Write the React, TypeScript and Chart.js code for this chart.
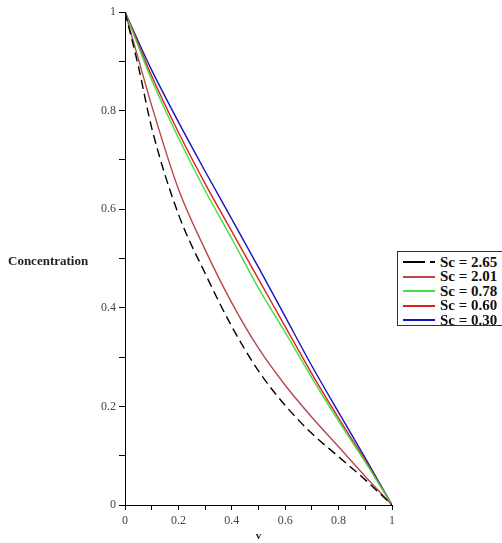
import React, { useEffect, useRef } from "react";
import { Chart, registerables } from "chart.js";

Chart.register(...registerables);

const vValues = [0, 0.05, 0.1, 0.2, 0.3, 0.4, 0.5, 0.6, 0.7, 0.8, 0.9, 1];
const sc265 = [1, 0.89, 0.765, 0.59, 0.47, 0.362, 0.272, 0.202, 0.145, 0.098, 0.051, 0];
const sc201 = [1, 0.905, 0.81, 0.641, 0.518, 0.41, 0.318, 0.243, 0.178, 0.118, 0.058, 0];
const sc078 = [1, 0.93, 0.862, 0.745, 0.638, 0.54, 0.44, 0.35, 0.258, 0.17, 0.087, 0];
const sc060 = [1, 0.935, 0.87, 0.756, 0.652, 0.555, 0.458, 0.362, 0.266, 0.176, 0.09, 0];
const sc030 = [1, 0.94, 0.882, 0.777, 0.677, 0.58, 0.482, 0.382, 0.282, 0.188, 0.095, 0];
const seriesLabels = ["Sc = 2.65", "Sc = 2.01", "Sc = 0.78", "Sc = 0.60", "Sc = 0.30"];
const seriesColors = ["#000000", "#b8474a", "#3fe03f", "#e01f1f", "#1414c0"];
const xTickLabels = ["0", "0.2", "0.4", "0.6", "0.8", "1"];
const yTickLabels = ["0", "0.2", "0.4", "0.6", "0.8", "1"];

const SERIF = "'Liberation Serif', 'DejaVu Serif', serif";

export default function App() {
  const ref = useRef<HTMLCanvasElement | null>(null);
  useEffect(() => {
    if (!ref.current) return;
    const all = [sc265, sc201, sc078, sc060, sc030];
    const fmt = (val: number, labels: string[]) => {
      const idx = Math.round(val * 10);
      if (idx % 2 !== 0) return "";
      return labels[idx / 2] ?? "";
    };
    const chart = new Chart(ref.current, {
      type: "line",
      data: {
        datasets: all.map((arr, i) => ({
          label: seriesLabels[i],
          data: vValues.map((v, j) => ({ x: v, y: arr[j] })),
          borderColor: seriesColors[i],
          borderWidth: 1.4,
          borderDash: i === 0 ? [9, 5] : [],
          pointRadius: 0,
          fill: false,
          cubicInterpolationMode: "monotone" as const,
        })),
      },
      options: {
        animation: false,
        responsive: false,
        layout: { padding: { left: 0, right: 110, top: 12, bottom: 0 } },
        plugins: { legend: { display: false }, tooltip: { enabled: false } },
        scales: {
          x: {
            type: "linear",
            min: 0,
            max: 1,
            afterFit: (s: any) => { s.height = 38; },
            afterBuildTicks: (s: any) => {
              s.ticks = Array.from({ length: 11 }, (_, k) => ({ value: k / 10 }));
            },
            ticks: {
              autoSkip: false,
              maxRotation: 0,
              padding: 4,
              color: "#444",
              font: { family: SERIF, size: 12 },
              callback: (val: any) => fmt(Number(val), xTickLabels),
            },
            grid: { drawOnChartArea: false, drawTicks: true, tickLength: 5, color: "#000" },
            border: { display: true, color: "#000", width: 1 },
            title: {
              display: true,
              text: "v",
              color: "#222",
              font: { family: SERIF, size: 11, weight: "bold" },
              padding: { top: 0, bottom: 0 },
            },
          },
          y: {
            type: "linear",
            min: 0,
            max: 1,
            afterFit: (s: any) => { s.width = 125; },
            afterBuildTicks: (s: any) => {
              s.ticks = Array.from({ length: 11 }, (_, k) => ({ value: k / 10 }));
            },
            ticks: {
              autoSkip: false,
              padding: 3,
              color: "#444",
              font: { family: SERIF, size: 12 },
              callback: (val: any) => fmt(Number(val), yTickLabels),
            },
            grid: { drawOnChartArea: false, drawTicks: true, tickLength: 6, color: "#000" },
            border: { display: true, color: "#000", width: 1 },
          },
        },
      },
    });
    return () => chart.destroy();
  }, []);

  const legendTop = 251;
  const rowH = 14.5;
  return (
    <div style={{ position: "absolute", left: 0, top: 0, width: 502, height: 543, background: "#fff", overflow: "hidden" }}>
      <canvas ref={ref} width={502} height={543} style={{ position: "absolute", left: 0, top: 0 }} />
      <div
        style={{
          position: "absolute",
          left: 8,
          top: 253,
          fontFamily: SERIF,
          fontWeight: "bold",
          fontSize: 13,
          color: "#222",
          whiteSpace: "nowrap",
        }}
      >
        Concentration
      </div>
      <div
        style={{
          position: "absolute",
          left: 397,
          top: legendTop,
          width: 120,
          height: 75,
          border: "1px solid #333",
          boxSizing: "border-box",
          background: "#fff",
        }}
      >
        {seriesLabels.map((lab, i) => (
          <div
            key={lab}
            style={{
              position: "absolute",
              left: 0,
              top: 3 + i * rowH,
              height: rowH,
              display: "flex",
              alignItems: "center",
              whiteSpace: "nowrap",
            }}
          >
            <svg width={40} height={10} style={{ display: "block" }}>
              <line
                x1={5}
                y1={5}
                x2={37}
                y2={5}
                stroke={seriesColors[i]}
                strokeWidth={2}
                strokeDasharray={i === 0 ? "22 5" : undefined}
              />
            </svg>
            <span style={{ fontFamily: SERIF, fontWeight: "bold", fontSize: 15, color: "#111", marginLeft: 2 }}>{lab}</span>
          </div>
        ))}
      </div>
    </div>
  );
}
